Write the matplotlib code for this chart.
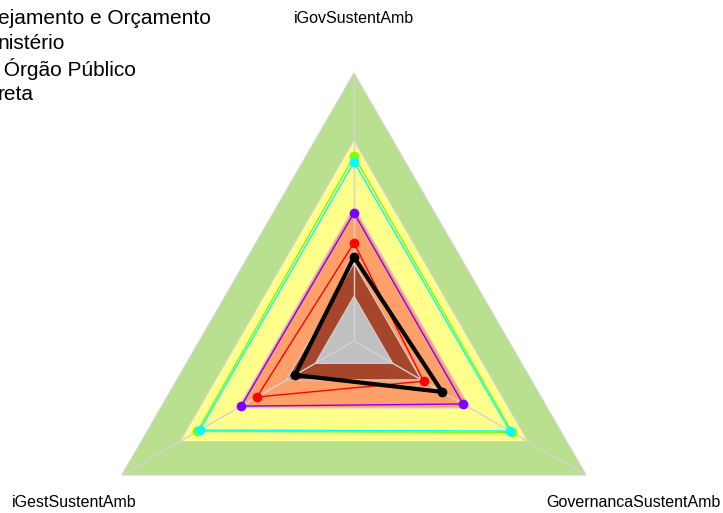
import numpy as np
import matplotlib.pyplot as plt

plt.rcParams['font.family'] = ['Liberation Sans', 'DejaVu Sans']

# axes of the radar, counter-clockwise from the top
axes_names = ['iGovSustentAmb', 'iGestSustentAmb', 'GovernancaSustentAmb']

# background bands (outer radius, colour), drawn from the outside in
band_levels = [1.0, 0.75, 0.5, 0.29, 0.167]
band_colors = ['#b9e08f', '#ffff8c', '#ffa06a', '#a5462b', '#c0c0c0']

# series values (same order as axes_names)
series_values = {
    'lime':   [0.690, 0.675, 0.682],
    'cyan':   [0.668, 0.664, 0.672],
    'purple': [0.478, 0.486, 0.470],
    'red':    [0.366, 0.418, 0.300],
    'black':  [0.313, 0.254, 0.380],
}
series_colors = {'lime': '#80ff00', 'cyan': '#00ffff', 'purple': '#8000ff',
                 'red': '#ff0000', 'black': '#000000'}
series_widths = {'lime': 1, 'cyan': 1, 'purple': 1, 'red': 1, 'black': 3}

# legend lines (cut by the left/top edge of the figure, as in the original)
legend_lines = ['ejamento e Orçamento', 'nistério', ' Órgão Público', 'reta']

W, H = 723, 513
fig = plt.figure(figsize=(W / 100, H / 100), dpi=100)
cx, cy, R = 354, 341, 268
ax = fig.add_axes([(cx - R) / W, (H - cy - R) / H, 2 * R / W, 2 * R / H],
                  projection='polar')
ax.set_theta_offset(np.pi / 2)
ax.set_ylim(0, 1)
ax.axis('off')

theta = np.arange(len(axes_names)) * 2 * np.pi / len(axes_names)
theta_closed = np.append(theta, theta[0])

for lvl, col in zip(band_levels, band_colors):
    ax.fill(theta_closed, [lvl] * 4, color=col, ec='#d3d3d3', lw=0.8, zorder=1)

for t in theta:
    ax.plot([t, t], [0, 1], color='#d3d3d3', lw=1, zorder=2)

for name, vals in series_values.items():
    v = np.append(vals, vals[0])
    ax.plot(theta_closed, v, color=series_colors[name], lw=series_widths[name],
            zorder=3)
    ax.plot(theta, vals, 'o', color=series_colors[name], ms=7, mec='none',
            zorder=4)

for t, name in zip(theta, axes_names):
    ax.text(t, 1.205, name, ha='center', va='center', fontsize=11.5)

for i, txt in enumerate(legend_lines):
    fig.text(-2 / W, 1 - (18 + 25.5 * i) / H, txt, ha='left', va='center',
             fontsize=15)

fig.savefig('out.png', dpi=100)
